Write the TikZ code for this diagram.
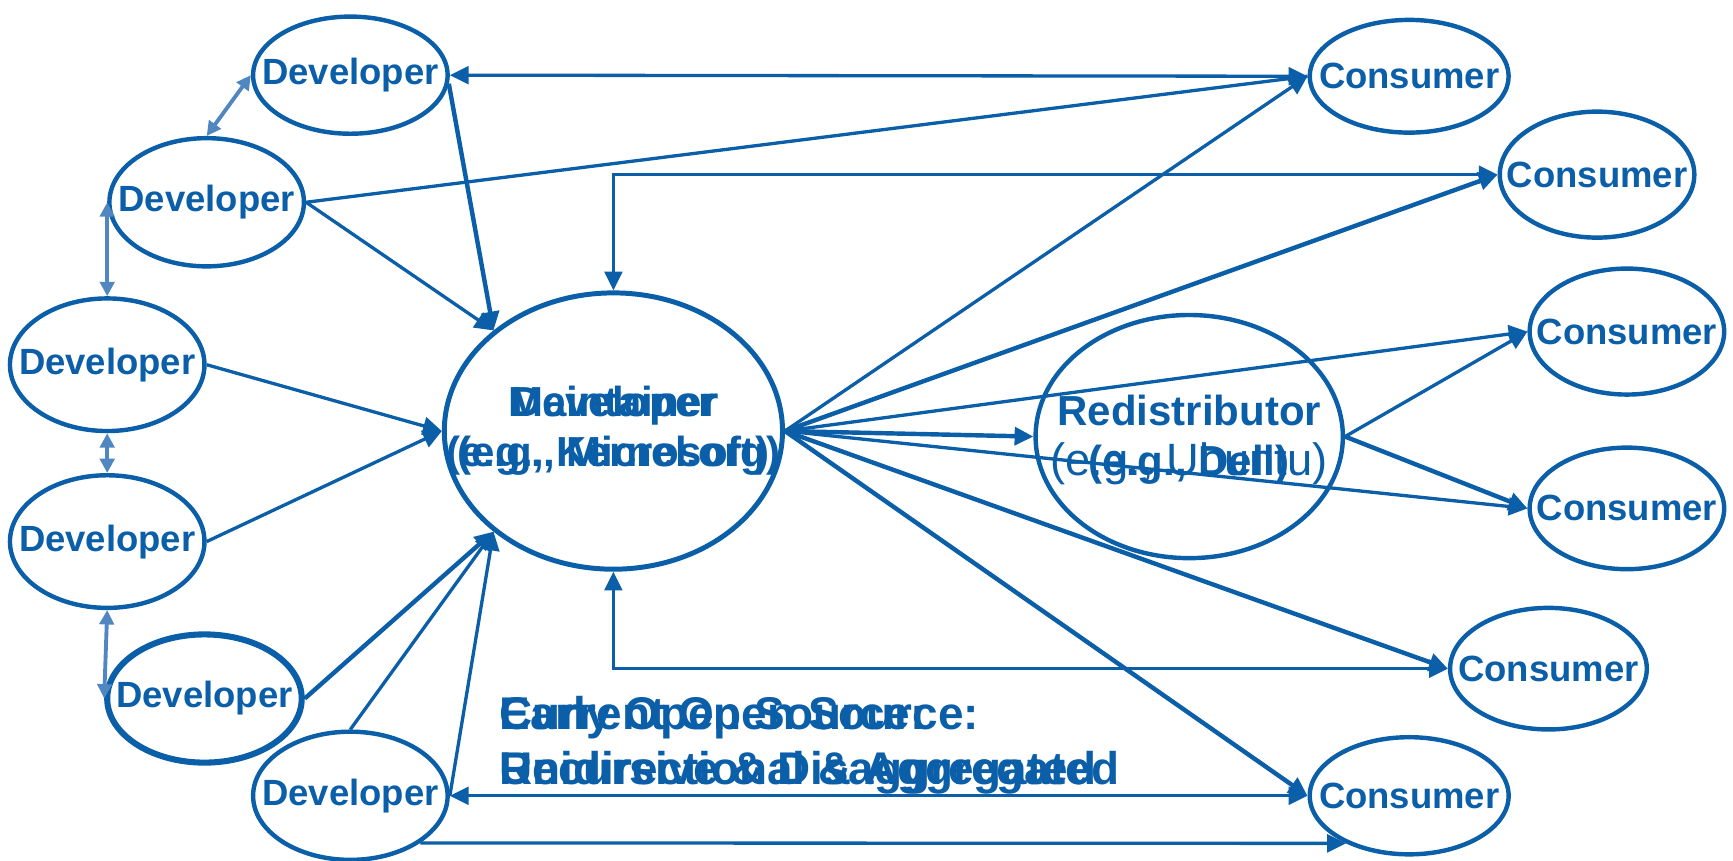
\documentclass[tikz,border=0pt]{standalone}
\usepackage{fontspec}
\setmainfont{Liberation Sans}
\usetikzlibrary{shapes.geometric,arrows.meta}
\definecolor{mblue}{RGB}{11,94,168}
\definecolor{lblue}{RGB}{80,135,192}
\tikzset{
  Tr/.tip={Triangle[length=17pt,width=16pt]},
  Ts/.tip={Triangle[length=13pt,width=13pt]},
  ell/.style={ellipse,draw=mblue,line width=4pt,inner sep=0pt},
  devlbl/.style={text=mblue,font=\fontsize{33}{38}\selectfont\bfseries,inner sep=0pt},
  bigtxt/.style={text=mblue,font=\fontsize{38}{45}\selectfont\bfseries,align=center,inner sep=0pt},
  captxt/.style={text=mblue,font=\fontsize{41.5}{50}\selectfont\bfseries,anchor=base west,inner sep=0pt},
  conn/.style={draw=mblue,line width=3pt},
  thk/.style={draw=mblue,line width=4pt},
  dd/.style={draw=lblue,line width=3.5pt,Ts-Ts},
}
\begin{document}
\begin{tikzpicture}[x=1pt,y=-1pt]
\useasboundingbox (0,0) rectangle (1568,779);
% developers
\node[ell,minimum width=176pt,minimum height=106pt,label={[devlbl,name=D1t]center:Developer}] (D1) at (317,68) {};
\node[ell,minimum width=176pt,minimum height=116pt,label={[devlbl,name=D2t]center:Developer}] (D2) at (187,183) {};
\node[ell,minimum width=176pt,minimum height=120pt,label={[devlbl,name=D3t]center:Developer}] (D3) at (97,330) {};
\node[ell,minimum width=176pt,minimum height=120pt,label={[devlbl,name=D4t]center:Developer}] (D4) at (97,490) {};
\node[ell,line width=5.5pt,minimum width=176pt,minimum height=116pt,label={[devlbl,name=D5t]center:Developer}] (D5) at (185,632) {};
\node[ell,minimum width=176pt,minimum height=116pt,label={[devlbl,name=D6t]center:Developer}] (D6) at (317,720) {};
% maintainer and redistributor
\node[ell,line width=4.5pt,minimum width=306pt,minimum height=250pt] (M) at (555,390) {};
\node[bigtxt] (Mt1) at (M.center) {Maintainer\\(e.g., Kernel.org)};
\node[bigtxt] (Mt2) at (M.center) {Developer\\(e.g., Microsoft)};
\node[ell,minimum width=278pt,minimum height=220pt] (R) at (1076,395) {};
\node[bigtxt] (Rt1) at ([yshift=-3pt]R.center) {Redistributor\\{\mdseries\fontsize{41}{45}\selectfont (e.g., Ubuntu)}};
\node[bigtxt] (Rt2) at ([yshift=-3pt]R.center) {\phantom{Redistributor}\\(e.g., Dell)};
% consumers
\node[ell,minimum width=180pt,minimum height=102pt,label={[devlbl,name=C1t]center:Consumer}] (C1) at (1275,69) {};
\node[ell,minimum width=176pt,minimum height=114pt,label={[devlbl,name=C2t]center:Consumer}] (C2) at (1445,158) {};
\node[ell,minimum width=176pt,minimum height=114pt,label={[devlbl,name=C3t]center:Consumer}] (C3) at (1472,300) {};
\node[ell,minimum width=176pt,minimum height=110pt,label={[devlbl,name=C4t]center:Consumer}] (C4) at (1472,460) {};
\node[ell,minimum width=178pt,minimum height=110pt,label={[devlbl,name=C5t]center:Consumer}] (C5) at (1401,605) {};
\node[ell,minimum width=180pt,minimum height=106pt,label={[devlbl,name=C6t]center:Consumer}] (C6) at (1275,720) {};
% caption
\node[captxt] (T1a) at (452,660) {Early Open Source:};
\node[captxt] (T1b) at (452,660) {Current Open Source:};
\node[captxt] (T2a) at (452,710) {Recursive \& Disaggregated};
\node[captxt] (T2b) at (452,710) {Unidirectional \& Aggregated};
% connectors
\draw[conn,Tr-Tr] (D1.east) -- (C1.west);
\draw[thk,-Tr] (D1.-5) -- (M.140);
\draw[conn] (D2.east) -- (C1.west);
\draw[conn,-Tr] (D2.east) -- (M.140);
\draw[conn,-Tr] (D3.east) -- (M.west);
\draw[conn,-Tr] (D4.east) -- (M.west);
\draw[thk,-Tr] (D5.east) -- (M.-140);
\draw[conn,-Tr] (D6.north) -- (M.-140);
\draw[conn,-Tr] (D6.east) -- (M.-140);
\draw[conn,Tr-Tr] (C6.west) -- (D6.east);
\draw[conn,-Tr] (D6.-34) -- (C6.-143);
\draw[conn,Tr-Tr] (M.north) |- (C2.west);
\draw[conn,Tr-Tr] (M.south) |- (C5.west);
\draw[conn,-Tr] (M.east) -- (C1.west);
\draw[thk,-Tr] (M.east) -- (C2.west);
\draw[thk,-Tr] (M.east) -- (R.west);
\draw[conn,-Tr] (M.east) -- (C3.west);
\draw[conn,-Tr] (R.east) -- (C3.west);
\draw[conn,-Tr] (M.east) -- (C4.west);
\draw[thk,-Tr] (R.east) -- (C4.west);
\draw[thk,-Tr] (M.east) -- (C5.west);
\draw[thk,-Tr] (M.east) -- (C6.west);
% developer-to-developer links
\draw[dd] (D1.west) -- (D2.north);
\draw[dd] (D2.west) -- (D3.north);
\draw[dd] (D3.south) -- (D4.north);
\draw[dd] (D4.south) -- (D5.west);
\end{tikzpicture}
\end{document}
